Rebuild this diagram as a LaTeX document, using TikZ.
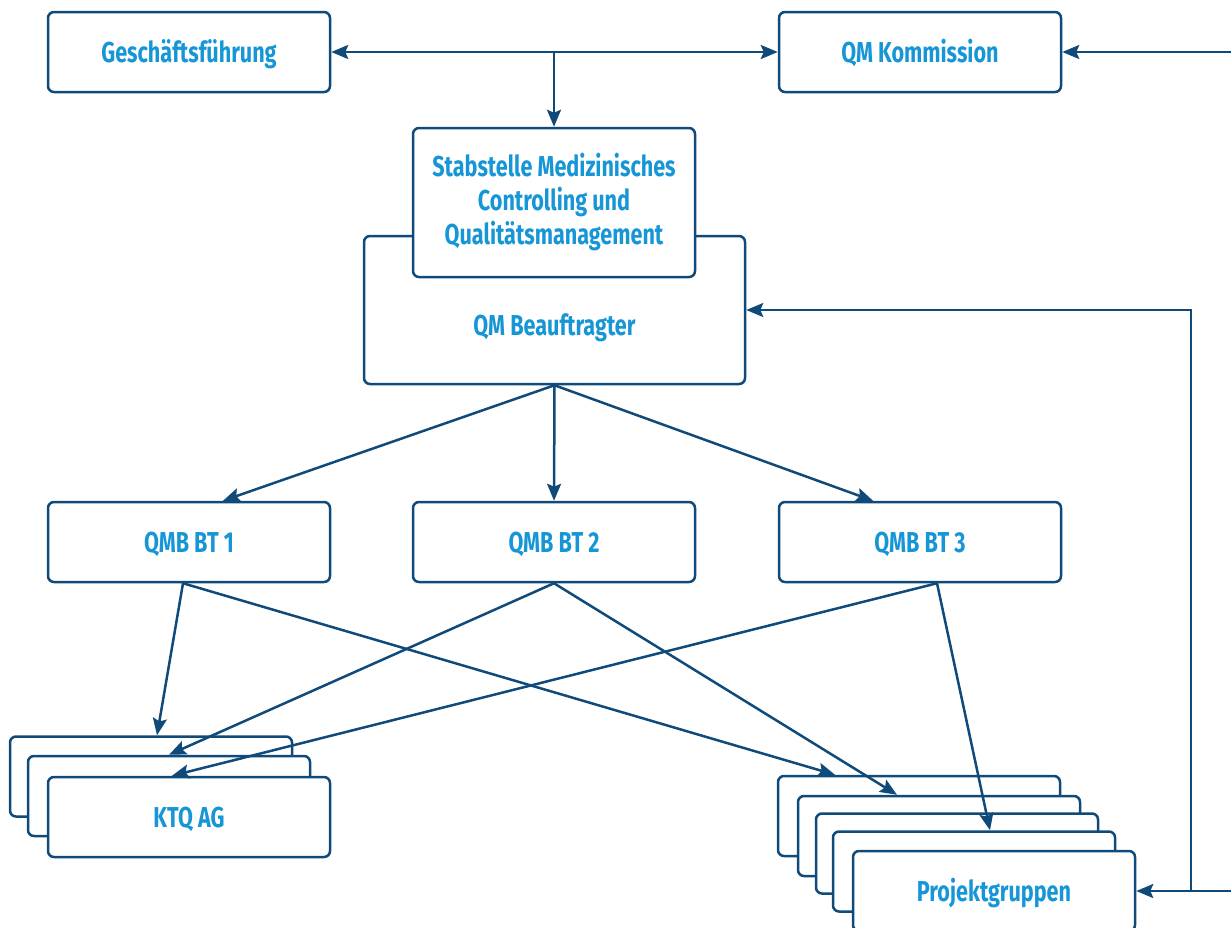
\documentclass[tikz,border=0pt]{standalone}
\usepackage{fontspec}
\setmainfont{Fira Sans}[FakeStretch=0.75]
\usetikzlibrary{arrows.meta,positioning}

\definecolor{qmline}{RGB}{16,74,122}
\definecolor{qmtext}{RGB}{22,150,214}

\tikzset{
  box/.style={draw=qmline,line width=2.5pt,rounded corners=6pt,fill=white,
    minimum width=282pt,minimum height=80pt,inner sep=0pt},
  lbl/.style={text=qmtext,font=\fontsize{28.8}{34}\selectfont\bfseries,align=center},
  onel/.style={lbl,text height=24pt,text depth=3pt},
  arr/.style={draw=qmline,line width=2.5pt,-{Stealth[length=17pt,width=14pt,inset=3pt]}},
  arrtwo/.style={arr,{Stealth[length=17pt,width=14pt,inset=3pt]}-{Stealth[length=17pt,width=14pt,inset=3pt]}}
}

\begin{document}
\begin{tikzpicture}[x=1pt,y=-1pt]
\useasboundingbox[fill=white] (0,0) rectangle (1231,927);

% top row
\node[box,onel] (gf) at (189,52) {Geschäftsführung};
\node[box,onel] (qmk) at (920,52) {QM Kommission};

% QM Beauftragter with the Stabstelle on top
\node[box,minimum width=381pt,minimum height=148pt] (qmb) at (554.5,310) {};
\node[onel] (qmbtxt) at (554.5,325) {QM Beauftragter};
\node[box,lbl,minimum height=149pt] (stab) at (554,202.5)
  {Stabstelle Medizinisches\\Controlling und\\Qualitätsmanagement};

% BT row
\node[box,onel] (bt1) at (189,542) {QMB BT 1};
\node[box,onel] (bt2) at (554,542) {QMB BT 2};
\node[box,onel] (bt3) at (920,542) {QMB BT 3};

% KTQ stack
\node[box] (k1) at (151,776.5) {};
\node[box] (k2) at (169,796) {};
\node[box,onel] (k3) at (189,817) {KTQ AG};

% Projektgruppen stack
\node[box] (pg1) at (919,816) {};
\node[box] (pg2) at (939,836) {};
\node[box] (pg3) at (957,853.5) {};
\node[box] (pg4) at (974,871.5) {};
\node[box,onel] (pg5) at (994,891) {Projektgruppen};

% incoming from the right
\coordinate (rin1) at (1231,52);
\coordinate (rin2) at (1231,891);
\coordinate (jn) at (1191,891);

\draw[arrtwo] (gf.east) -- (qmk.west);
\draw[arr] (gf.east -| stab.north) -- (stab.north);
\draw[arr] (rin1) -- (qmk.east);
\draw[arr] (rin2) -- (pg5.east);
\draw[arr] (jn) |- (qmb.east);

\draw[arr] (qmb.south) -- ([xshift=34pt]bt1.north);
\draw[arr] (qmb.south) -- (bt2.north);
\draw[arr] (qmb.south) -- ([xshift=-47pt]bt3.north);

\draw[arr] ([xshift=-6pt]bt1.south) -- ([xshift=6pt]k1.north);
\draw[arr] ([xshift=-6pt]bt1.south) -- ([xshift=-84pt]pg1.north);
\draw[arr] (bt2.south) -- (k2.north);
\draw[arr] (bt2.south) -- ([xshift=-42pt]pg2.north);
\draw[arr] ([xshift=17pt]bt3.south) -- ([xshift=-17pt]k3.north);
\draw[arr] ([xshift=17pt]bt3.south) -- ([xshift=16pt]pg4.north);

\end{tikzpicture}
\end{document}
